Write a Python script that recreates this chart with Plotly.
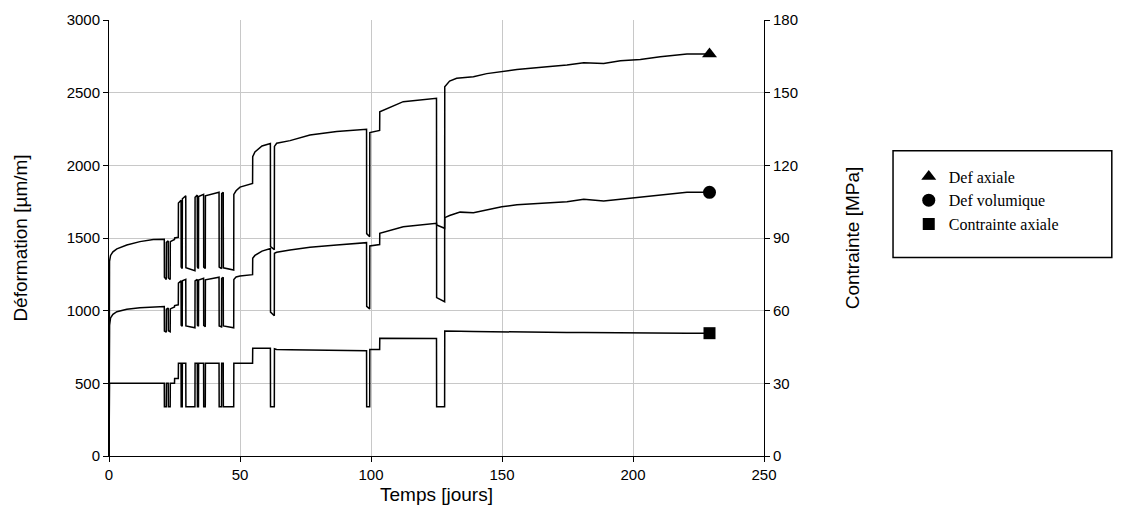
import plotly.graph_objects as go

# Time [days]
t_days = [0, 0.02, 0.2, 0.6, 1.5, 3.0, 6.8, 11.8, 16.9, 21.1, 21.15, 21.85, 21.9, 22.6, 22.65, 23.35, 23.4,
          25.0, 25.05, 26.45, 26.5, 27.5, 27.55, 27.95, 28.0, 29.3, 29.35, 32.8, 32.85, 33.7, 33.75, 34.15,
          34.2, 36.1, 36.15, 36.75, 36.8, 42.0, 42.05, 42.95, 43.0, 43.6, 43.65, 47.6, 47.65, 48.5, 50.0,
          54.8, 54.85, 55.7, 58.4, 61.6, 61.65, 63.1, 63.15, 64.0, 69.1, 76.7, 86.9, 98.3, 98.35, 99.5,
          99.55, 103.3, 103.35, 112.3, 125.0, 125.05, 128.1, 128.15, 130.0, 132.7, 134.0, 139.1, 144.2,
          149.9, 155.7, 167.2, 174.8, 181.2, 188.8, 195.2, 202.8, 210.4, 220.6, 229.2]

# Axial strain [um/m]
def_axiale = [0, 1250, 1340, 1380, 1405, 1425, 1452, 1475, 1490, 1492, 1230, 1215, 1470, 1480, 1225, 1215, 1475,
              1490, 1500, 1505, 1740, 1760, 1300, 1290, 1770, 1790, 1295, 1275, 1780, 1795, 1300, 1290,
              1785, 1800, 1300, 1290, 1790, 1815, 1300, 1290, 1805, 1815, 1295, 1280, 1800, 1825, 1850,
              1876, 2060, 2092, 2133, 2150, 1440, 1420, 2130, 2152, 2170, 2209, 2232, 2248, 1530, 1509,
              2225, 2240, 2369, 2438, 2461, 1090, 1062, 2541, 2580, 2599, 2602, 2610, 2631,
              2643, 2659, 2678, 2690, 2706, 2701, 2719, 2729, 2747, 2766, 2766]

# Volumetric strain [um/m]
def_volumique = [0, 820, 900, 950, 975, 993, 1009, 1020, 1027, 1028, 860, 852, 1010, 1018, 862, 855, 1012,
                 1025, 1035, 1040, 1190, 1205, 900, 892, 1205, 1215, 895, 882, 1205, 1215, 900, 893,
                 1210, 1222, 898, 890, 1212, 1230, 895, 888, 1222, 1230, 895, 882, 1215, 1232, 1238,
                 1248, 1360, 1380, 1410, 1428, 990, 965, 1395, 1402, 1417, 1436, 1452, 1468, 1030, 1012,
                 1445, 1455, 1532, 1578, 1601, 1590, 1567, 1640, 1655, 1670, 1678, 1674, 1692,
                 1715, 1728, 1739, 1750, 1766, 1755, 1766, 1780, 1796, 1814, 1814]

# Axial stress [MPa]
contrainte = [0, 30, 30, 30, 30, 30, 30, 30, 30, 30, 20.3, 20.3, 30, 30, 20.3, 20.3, 30,
              30, 32, 32, 38.3, 38.3, 20.3, 20.3, 38.3, 38.3, 20.3, 20.3, 38.3, 38.3, 20.3, 20.3,
              38.3, 38.3, 20.3, 20.3, 38.3, 38.3, 20.3, 20.3, 38.3, 38.3, 20.3, 20.3, 38.3, 38.3, 38.3,
              38.3, 44.5, 44.5, 44.5, 44.5, 20.3, 20.3, 44.3, 44.0, 43.9, 43.8, 43.6, 43.5, 20.3, 20.3,
              44.0, 44.0, 48.6, 48.6, 48.5, 20.3, 20.3, 51.6, 51.5, 51.5, 51.5, 51.4, 51.3,
              51.3, 51.2, 51.1, 51.0, 51.0, 50.9, 50.9, 50.8, 50.8, 50.7, 50.7]

legend_names = ["Def axiale", "Def volumique", "Contrainte axiale"]

fig = go.Figure()
ln = dict(color="black", width=1.5)
fig.add_trace(go.Scatter(x=t_days, y=def_axiale, mode="lines", line=ln, showlegend=False, hoverinfo="skip"))
fig.add_trace(go.Scatter(x=t_days, y=def_volumique, mode="lines", line=ln, showlegend=False, hoverinfo="skip"))
fig.add_trace(go.Scatter(x=t_days, y=contrainte, mode="lines", line=ln, yaxis="y2", showlegend=False, hoverinfo="skip"))

fig.add_trace(go.Scatter(x=[t_days[-1]], y=[def_axiale[-1]], mode="markers", name=legend_names[0],
                         marker=dict(symbol="triangle-up", size=13, color="black")))
fig.add_trace(go.Scatter(x=[t_days[-1]], y=[def_volumique[-1]], mode="markers", name=legend_names[1],
                         marker=dict(symbol="circle", size=13, color="black")))
fig.add_trace(go.Scatter(x=[t_days[-1]], y=[contrainte[-1]], mode="markers", name=legend_names[2], yaxis="y2",
                         marker=dict(symbol="square", size=12, color="black")))

tickfont = dict(family="Liberation Sans, Arial, sans-serif", size=15, color="black")
titlefont = dict(family="Liberation Sans, Arial, sans-serif", size=19, color="black")
grid = "#c8c8c8"

fig.update_layout(
    width=1128, height=526,
    margin=dict(l=101, r=372, t=12, b=78, autoexpand=False),
    paper_bgcolor="white", plot_bgcolor="white",
    xaxis=dict(range=[0, 250], dtick=50, tick0=0, showgrid=True, gridcolor=grid, gridwidth=1,
               zeroline=False, showline=True, linecolor="black", linewidth=1,
               ticks="outside", ticklen=5, tickcolor="black", tickfont=tickfont,
               title=dict(text="Temps [jours]", font=titlefont, standoff=5), automargin=False),
    yaxis=dict(range=[0, 3000], dtick=500, tick0=0, showgrid=True, gridcolor=grid, gridwidth=1,
               zeroline=False, showline=True, linecolor="black", linewidth=1,
               ticks="outside", ticklen=5, tickcolor="black", tickfont=tickfont,
               title=dict(text="Déformation [µm/m]", font=titlefont, standoff=33), automargin=False),
    yaxis2=dict(range=[0, 180], dtick=30, tick0=0, overlaying="y", side="right", showgrid=False,
                zeroline=False, showline=True, linecolor="black", linewidth=1,
                ticks="outside", ticklen=5, tickcolor="black", tickfont=tickfont,
                title=dict(text="Contrainte [MPa]", font=titlefont, standoff=48), automargin=False),
    legend=dict(x=1.221, y=0.68, xanchor="left", yanchor="top", bgcolor="rgba(0,0,0,0)",
                borderwidth=0, font=dict(family="Liberation Serif, Times New Roman, serif", size=16, color="black"),
                tracegroupgap=0),
    shapes=[dict(type="rect", xref="paper", yref="paper", x0=1.197, x1=1.531, y0=0.455, y1=0.700,
                 line=dict(color="black", width=1.5), fillcolor="rgba(0,0,0,0)")],
    showlegend=True,
)

fig.write_html("out.html")
